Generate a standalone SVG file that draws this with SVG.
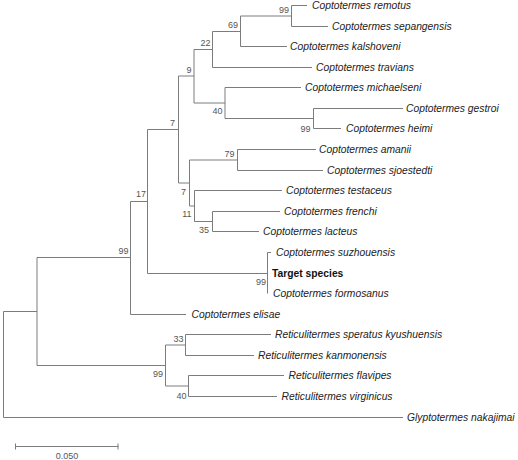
<svg xmlns="http://www.w3.org/2000/svg" width="518" height="460" viewBox="0 0 518 460">
<style>
.br{fill:none;stroke:#7c7c7c;stroke-width:1}
.lf{font-family:"Liberation Sans",Arial,sans-serif;font-size:10.3px;font-style:italic;fill:#222}
.tg{font-family:"Liberation Sans",Arial,sans-serif;font-size:10.3px;font-weight:bold;fill:#111}
.bs{font-family:"Liberation Sans",Arial,sans-serif;font-size:9px;fill:#555;text-anchor:end}
.sc{font-family:"Liberation Sans",Arial,sans-serif;font-size:9px;fill:#555;text-anchor:middle}
</style>
<rect width="518" height="460" fill="#fff"/>
<g id="connectors" class="br">
<path d="M3.5,311.5V417.5M3.5,311.5H37M3.5,417.5H403"/>
<path d="M37,257.5V365.5M37,257.5H130.5M37,365.5H165.5"/>
<path d="M130.5,201.5V314.5M130.5,201.5H147.5M130.5,314.5H186"/>
<path d="M147.5,129.5V273.5M147.5,129.5H178.5M147.5,273.5H267.5"/>
<path d="M178.5,76V183M178.5,76H194M178.5,183H189.5"/>
<path d="M194,49.5V103M194,49.5H212.5M194,103H225"/>
<path d="M212.5,31.5V67.5M212.5,31.5H240.5M212.5,67.5H312"/>
<path d="M240.5,16V46.5M240.5,16H291.5M240.5,46.5H287"/>
<path d="M291.5,5.5V26.5M291.5,5.5H307M291.5,26.5H328"/>
<path d="M225,87.5V118.5M225,87.5H301M225,118.5H313.5"/>
<path d="M313.5,108.5V128.5M313.5,108.5H403M313.5,128.5H341"/>
<path d="M189.5,160V206M189.5,160H237.5M189.5,206H194.5"/>
<path d="M237.5,149.5V170.5M237.5,149.5H316M237.5,170.5H323"/>
<path d="M194.5,190.5V221.5M194.5,190.5H282M194.5,221.5H212.5"/>
<path d="M212.5,211.5V231.5M212.5,211.5H280M212.5,231.5H259"/>
<path d="M267.5,252.5V293.5M267.5,252.5H271"/>
<path d="M165.5,345V386M165.5,345H185.5M165.5,386H188.5"/>
<path d="M185.5,334.5V355.5M185.5,334.5H271M185.5,355.5H254"/>
<path d="M188.5,375.5V396.5M188.5,375.5H284M188.5,396.5H277"/>
</g>
<g id="leaf-remotus"><text class="lf" x="312" y="9.2">Coptotermes remotus</text></g>
<g id="leaf-sepangensis"><text class="lf" x="332" y="30.2">Coptotermes sepangensis</text></g>
<g id="leaf-kalshoveni"><text class="lf" x="290" y="50.2">Coptotermes kalshoveni</text></g>
<g id="leaf-travians"><text class="lf" x="316" y="71.2">Coptotermes travians</text></g>
<g id="leaf-michaelseni"><text class="lf" x="305" y="91.2">Coptotermes michaelseni</text></g>
<g id="leaf-gestroi"><text class="lf" x="406" y="112.2">Coptotermes gestroi</text></g>
<g id="leaf-heimi"><text class="lf" x="346" y="132.2">Coptotermes heimi</text></g>
<g id="leaf-amanii"><text class="lf" x="319" y="153.2">Coptotermes amanii</text></g>
<g id="leaf-sjoestedti"><text class="lf" x="327" y="174.2">Coptotermes sjoestedti</text></g>
<g id="leaf-testaceus"><text class="lf" x="286" y="194.2">Coptotermes testaceus</text></g>
<g id="leaf-frenchi"><text class="lf" x="284" y="215.2">Coptotermes frenchi</text></g>
<g id="leaf-lacteus"><text class="lf" x="263" y="235.2">Coptotermes lacteus</text></g>
<g id="leaf-suzhouensis"><text class="lf" x="276" y="256.2">Coptotermes suzhouensis</text></g>
<g id="leaf-target"><text class="tg" x="272" y="277.2">Target species</text></g>
<g id="leaf-formosanus"><text class="lf" x="273" y="297.2">Coptotermes formosanus</text></g>
<g id="leaf-elisae"><text class="lf" x="191.5" y="318.2">Coptotermes elisae</text></g>
<g id="leaf-speratus"><text class="lf" x="275" y="338.2">Reticulitermes speratus kyushuensis</text></g>
<g id="leaf-kanmonensis"><text class="lf" x="258" y="359.2">Reticulitermes kanmonensis</text></g>
<g id="leaf-flavipes"><text class="lf" x="288.5" y="379.2">Reticulitermes flavipes</text></g>
<g id="leaf-virginicus"><text class="lf" x="281.5" y="400.2">Reticulitermes virginicus</text></g>
<g id="leaf-nakajimai"><text class="lf" x="407" y="421.2">Glyptotermes nakajimai</text></g>
<g id="node-I"><text class="bs" x="289" y="12.5">99</text></g>
<g id="node-H"><text class="bs" x="238" y="28">69</text></g>
<g id="node-G"><text class="bs" x="210.5" y="46">22</text></g>
<g id="node-F"><text class="bs" x="191.5" y="73">9</text></g>
<g id="node-J"><text class="bs" x="222.5" y="114">40</text></g>
<g id="node-K"><text class="bs" x="310.5" y="131.5">99</text></g>
<g id="node-D"><text class="bs" x="175" y="125.5">7</text></g>
<g id="node-M"><text class="bs" x="234.5" y="156.5">79</text></g>
<g id="node-N"><text class="bs" x="186" y="195">7</text></g>
<g id="node-O"><text class="bs" x="191.5" y="216.5">11</text></g>
<g id="node-P"><text class="bs" x="209" y="233">35</text></g>
<g id="node-C"><text class="bs" x="146" y="196.5">17</text></g>
<g id="node-B"><text class="bs" x="128.5" y="254">99</text></g>
<g id="node-E"><text class="bs" x="266" y="285">99</text></g>
<g id="node-L"><text class="bs" x="183.5" y="342">33</text></g>
<g id="node-Q"><text class="bs" x="186.5" y="398.5">40</text></g>
<g id="node-R"><text class="bs" x="163" y="377">99</text></g>
<g id="scale">
<path class="br" d="M15,446.5H118.5M15.5,443.5V449.5M118,443.5V449.5"/>
<text class="sc" x="67" y="459">0.050</text>
</g>
</svg>
